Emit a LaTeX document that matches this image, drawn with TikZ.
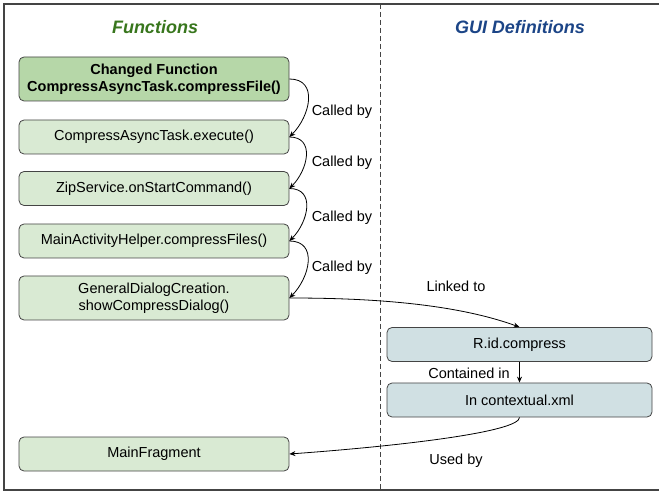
\documentclass[tikz,border=0pt]{standalone}
\usepackage{fontspec}
\setmainfont{Liberation Sans}
\usetikzlibrary{arrows.meta}
\definecolor{fgreen}{HTML}{D9EAD3}
\definecolor{fgreendark}{HTML}{B6D7A8}
\definecolor{guiblue}{HTML}{D0E0E3}
\definecolor{titlegreen}{HTML}{38761D}
\definecolor{titleblue}{HTML}{1C4587}
\definecolor{rand}{HTML}{444444}

\begin{document}
\begin{tikzpicture}[x=1pt, y=-1pt, % Pixel-Koordinaten, y nach unten
  funcbox/.style={draw=rand, line width=0.8pt, rounded corners=5pt, fill=fgreen,
    minimum width=270pt, minimum height=34pt, inner sep=2pt, align=center,
    font=\fontsize{14.5}{17}\selectfont},
  guibox/.style={funcbox, fill=guiblue, minimum width=265pt},
  lbl/.style={font=\fontsize{14.5}{17}\selectfont, inner sep=1pt},
  titel/.style={font=\fontsize{18}{20}\selectfont\bfseries\itshape},
  pfeil/.style={line width=0.8pt, -{Stealth[length=6pt,width=5pt]}}]
\useasboundingbox (0,0) rectangle (659,494);
% Rahmen
\draw[rand, line width=1.2pt] (659,4) -- (4,4) -- (4,490) -- (659,490);
\draw[rand, line width=0.8pt, dash pattern=on 5pt off 3pt] (380,4) -- (380,490); % Trennlinie
% Titel
\node[titel, text=titlegreen] (tfunc) at (155,27) {Functions};
\node[titel, text=titleblue] (tgui) at (520,27) {GUI Definitions};
% Funktionen
\node[funcbox, fill=fgreendark, minimum height=44pt, font=\fontsize{14.5}{17}\selectfont\bfseries] (f1) at (154,79) {Changed Function\\CompressAsyncTask.compressFile()};
\node[funcbox] (f2) at (154,137) {CompressAsyncTask.execute()};
\node[funcbox] (f3) at (154,188.5) {ZipService.onStartCommand()};
\node[funcbox] (f4) at (154,241) {MainActivityHelper.compressFiles()};
\node[funcbox, minimum height=44pt] (f5) at (154,298) {GeneralDialogCreation.\\showCompressDialog()};
\node[funcbox] (mf) at (154,454) {MainFragment};
% GUI
\node[guibox] (g1) at (519.5,344.5) {R.id.compress};
\node[guibox] (g2) at (519.5,400) {In contextual.xml};
% Aufrufe
\foreach \a/\b/\y in {f1/f2/112, f2/f3/163, f3/f4/218, f4/f5/268} {
  \draw[pfeil] (\a.east) to[out=0, in=45, looseness=1.3] (\b.east); % Bogen
  \node[lbl] (c\a) at (342,\y) {Called by}; % Beschriftung
}
\draw[pfeil] (f5.east) to[out=0, in=160, looseness=0.8] (g1.north);
\node[lbl] (linked) at (456,286) {Linked to};
\draw[pfeil] (g1.south) -- (g2.north);
\node[lbl] (contained) at (469,373) {Contained in};
\draw[pfeil] (g2.south) .. controls (519.5,432) and (400,446) .. (mf.east);
\node[lbl] (used) at (456,461) {Used by};
\end{tikzpicture}
\end{document}
